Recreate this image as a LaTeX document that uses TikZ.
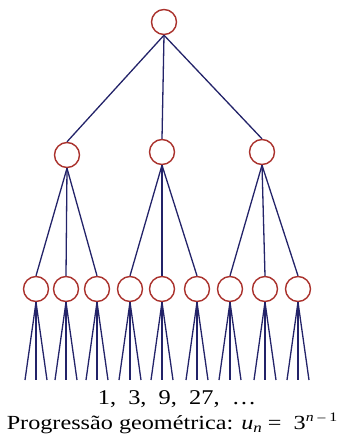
\documentclass[tikz,border=0pt]{standalone}
\usepackage{fontspec}
\setmainfont{Liberation Serif}
\begin{document}
\begin{tikzpicture}[x=1pt,y=-1pt,
  nd/.style={circle,draw=nodered,line width=1.4pt,minimum size=25pt,inner sep=0pt,fill=white},
  br/.style={draw=linkblue,line width=1.3pt}]
\definecolor{nodered}{RGB}{170,50,45}
\definecolor{linkblue}{RGB}{35,35,105}
\useasboundingbox (0,0) rectangle (342,445);
\node[nd] (r) at (164,22) {};
\node[nd] (a) at (67,155) {};
\node[nd] (b) at (162,152) {};
\node[nd] (c) at (262,152) {};
\foreach \i/\x in {1/36,2/66,3/97,4/130,5/162,6/197,7/230,8/265,9/298}{
  \node[nd] (l\i) at (\x,289) {};
  \coordinate (e\i a) at (\x-11,380);
  \coordinate (e\i b) at (\x,380);
  \coordinate (e\i c) at (\x+11,380);
  \draw[br] (l\i.south) -- (e\i a);
  \draw[br] (l\i.south) -- (e\i b);
  \draw[br] (l\i.south) -- (e\i c);
}
\draw[br] (r.south) -- (a.north);
\draw[br] (r.south) -- (b.north);
\draw[br] (r.south) -- (c.north);
\draw[br] (a.south) -- (l1.north);
\draw[br] (a.south) -- (l2.north);
\draw[br] (a.south) -- (l3.north);
\draw[br] (b.south) -- (l4.north);
\draw[br] (b.south) -- (l5.north);
\draw[br] (b.south) -- (l6.north);
\draw[br] (c.south) -- (l7.north);
\draw[br] (c.south) -- (l8.north);
\draw[br] (c.south) -- (l9.north);
\node[font=\fontsize{21}{24}\selectfont, inner sep=0pt] (seq) at (177,399)
  {\scalebox{1.16}[1]{1,\ \ 3,\ \ 9,\ \ 27,\ \ \dots}};
\node[font=\fontsize{20}{24}\selectfont, inner sep=0pt] (pg) at (172,423)
  {\scalebox{1.21}[1]{Progressão geométrica: \textit{u}\raisebox{-3pt}{\fontsize{14}{16}\selectfont\textit{n}}\ =\ \ 3\raisebox{8pt}{\fontsize{13}{15}\selectfont\textit{n} – 1}}};
\end{tikzpicture}
\end{document}
